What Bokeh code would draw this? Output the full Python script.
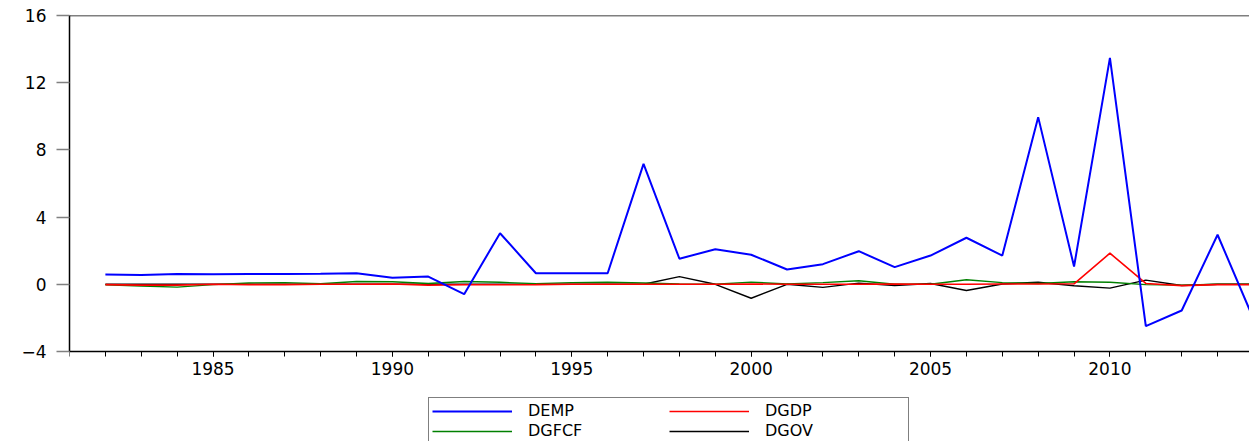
from bokeh.plotting import figure
from bokeh.models import FixedTicker, Range1d, Span, Legend, LegendItem
from bokeh.embed import file_html
from bokeh.resources import INLINE

years = list(range(1982, 2015))
demp = [0.58, 0.55, 0.62, 0.60, 0.62, 0.62, 0.63, 0.66, 0.39, 0.46,
        -0.59, 3.04, 0.66, 0.66, 0.66, 7.17, 1.52, 2.09, 1.76, 0.88,
        1.20, 1.97, 1.02, 1.71, 2.77, 1.71, 9.95, 1.06, 13.48, -2.49,
        -1.56, 2.95, -2.05]
dgdp = [-0.02, -0.05, -0.05, 0.00, -0.02, -0.02, 0.00, 0.00, 0.02, -0.05,
        -0.03, -0.03, -0.02, 0.00, 0.00, 0.00, 0.00, 0.00, 0.02, 0.00,
        0.00, 0.00, 0.02, 0.00, 0.00, 0.02, 0.02, 0.03, 1.85, 0.05,
        -0.08, -0.02, -0.02]
dgfcf = [-0.03, -0.10, -0.17, -0.02, 0.08, 0.10, 0.03, 0.17, 0.15, 0.05,
         0.17, 0.12, 0.04, 0.10, 0.12, 0.08, 0.02, 0.00, 0.13, 0.02,
         0.10, 0.21, 0.00, 0.00, 0.27, 0.10, 0.05, 0.15, 0.12, -0.02,
         -0.05, 0.00, 0.00]
dgov = [0.00, 0.00, 0.00, 0.00, 0.00, 0.00, 0.00, 0.00, 0.00, 0.00,
        0.00, 0.00, 0.00, 0.00, 0.00, 0.00, 0.46, 0.00, -0.83, 0.00,
        -0.18, 0.07, -0.07, 0.05, -0.37, 0.02, 0.12, -0.09, -0.23, 0.25,
        -0.07, 0.00, 0.00]
y_ticks = [-4, 0, 4, 8, 12, 16]
x_label_ticks = [1985, 1990, 1995, 2000, 2005, 2010]
x_minor_ticks = list(range(1981, 2014))

FONT = "DejaVu Sans"
Y_MIN, Y_MAX = -4, 16

# the frame reaches down to the window bottom so the legend can sit in it;
# the x axis is pinned at y = -4 as in the reference
p = figure(frame_width=1180, frame_height=426, output_backend="svg", toolbar_location=None,
           x_range=Range1d(1981, 2013.89), y_range=Range1d(-9.357, Y_MAX),
           min_border_left=69, min_border_right=0, min_border_top=15,
           min_border_bottom=0)
p.outline_line_color = None
p.grid.visible = False
p.background_fill_color = "white"
p.border_fill_color = "white"

r_black = p.line(years, dgov, line_color="black", line_width=1.4)
r_green = p.line(years, dgfcf, line_color="#008000", line_width=1.4)
r_red = p.line(years, dgdp, line_color="#ff0000", line_width=1.6)
r_blue = p.line(years, demp, line_color="#0000ff", line_width=2.0)

p.add_layout(Span(location=Y_MAX, dimension="width", line_color="black", line_width=1.5))

ya = p.yaxis[0]
ya.ticker = FixedTicker(ticks=y_ticks)
ya.bounds = (Y_MIN, Y_MAX)
ya.major_tick_out = 13
ya.major_tick_in = 0
ya.minor_tick_out = 0
ya.minor_tick_in = 0
ya.major_tick_line_color = "#808080"
ya.major_tick_line_width = 1.5
ya.axis_line_color = "black"
ya.axis_line_width = 1.5
ya.major_label_text_font = FONT
ya.major_label_text_font_size = "17px"
ya.major_label_text_color = "black"
ya.major_label_standoff = 10

xa = p.xaxis[0]
xa.fixed_location = Y_MIN
xa.ticker = FixedTicker(ticks=x_label_ticks, minor_ticks=x_minor_ticks)
xa.major_tick_out = 5
xa.major_tick_in = 0
xa.minor_tick_out = 5
xa.minor_tick_in = 0
xa.major_tick_line_color = "black"
xa.minor_tick_line_color = "black"
xa.axis_line_color = "black"
xa.axis_line_width = 1.5
xa.major_label_text_font = FONT
xa.major_label_text_font_size = "17px"
xa.major_label_text_color = "black"
xa.major_label_standoff = 5

legend = Legend(items=[
    LegendItem(label="DEMP", renderers=[r_blue]),
    LegendItem(label="DGFCF", renderers=[r_green]),
    LegendItem(label="DGDP", renderers=[r_red]),
    LegendItem(label="DGOV", renderers=[r_black]),
], ncols=2, location=(359, -3), orientation="vertical")
legend.label_text_font = FONT
legend.label_text_font_size = "16px"
legend.label_text_color = "black"
legend.label_height = 10
legend.glyph_height = 10
legend.glyph_width = 80
legend.label_standoff = 16
legend.label_width = 140
legend.spacing = 1
legend.padding = 3
legend.margin = 0
legend.border_line_color = "black"
legend.border_line_width = 1
legend.background_fill_alpha = 1
p.add_layout(legend, "center")

open("out.html", "w").write(file_html(p, INLINE))
